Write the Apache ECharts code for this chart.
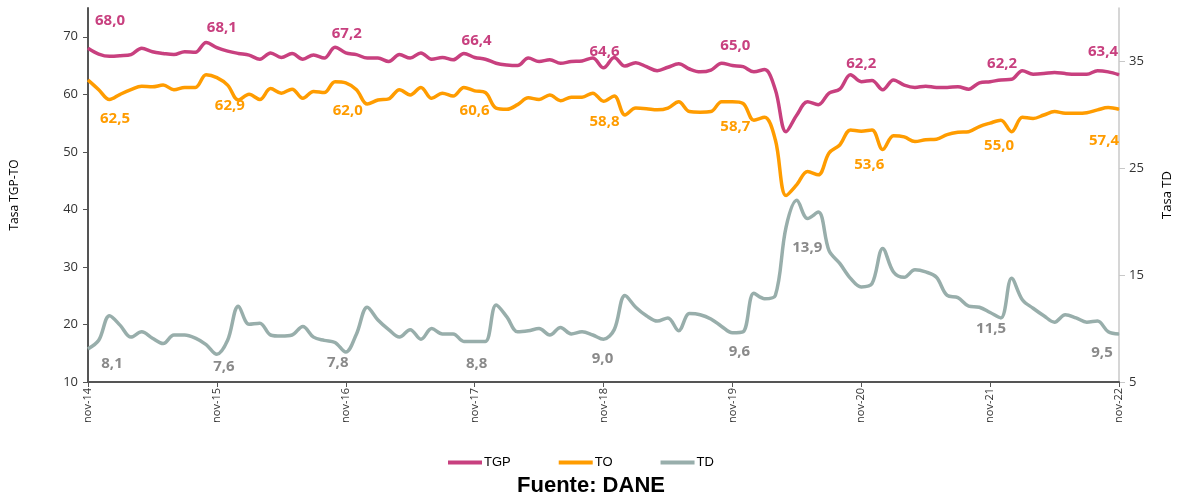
<!DOCTYPE html>
<html>
<head>
<meta charset="utf-8">
<script src="https://cdn.jsdelivr.net/npm/echarts@6/dist/echarts.min.js"></script>
<style>
html,body{margin:0;padding:0;background:#fff;overflow:hidden;}
#chart{width:1182px;height:495px;}
</style>
</head>
<body>
<div id="chart"></div>
<script>
// ---- DATA ----
const monthNames = ['nov','dic','ene','feb','mar','abr','may','jun','jul','ago','sep','oct'];
const startYear = 14;
const nMonths = 97;

const TGP = [68.0,67.0,66.6,66.7,66.9,68.0,67.4,67.1,66.9,67.4,67.3,69.0,
68.1,67.5,67.1,66.8,66.1,67.2,66.4,67.1,66.1,66.85,66.3,68.2,
67.2,66.9,66.3,66.3,65.7,66.9,66.3,67.2,66.1,66.4,66.0,67.1,
66.4,66.1,65.4,65.1,65.0,66.3,65.7,66.0,65.4,65.7,65.8,66.3,
64.6,66.4,64.9,65.5,64.8,64.1,64.7,65.3,64.4,63.9,64.2,65.4,
65.0,64.8,63.9,64.3,60.8,53.5,56.4,58.7,58.2,60.2,60.9,63.4,
62.2,62.4,60.8,62.5,61.6,61.2,61.4,61.2,61.2,61.3,60.9,62.0,
62.2,62.5,62.6,64.1,63.5,63.6,63.8,63.6,63.5,63.5,64.1,63.9,
63.4];

const TO = [62.5,60.8,59.1,60.0,60.8,61.4,61.3,61.6,60.8,61.2,61.2,63.4,
62.9,61.6,59.0,60.0,59.1,61.0,60.2,60.9,59.3,60.5,60.3,62.2,
62.0,60.8,58.3,59.0,59.2,60.8,59.9,61.2,59.3,60.2,59.7,61.2,
60.6,60.3,57.6,57.4,58.2,59.4,59.1,59.9,58.9,59.5,59.5,60.2,
58.8,59.7,56.4,57.6,57.5,57.3,57.6,58.7,57.0,56.9,57.0,58.7,
58.7,58.4,55.5,56.0,52.1,42.4,44.3,46.6,46.0,49.8,51.2,53.8,
53.6,53.8,50.4,52.8,52.6,51.8,52.1,52.2,53.0,53.4,53.5,54.4,
55.0,55.5,53.5,56.0,55.8,56.4,57.0,56.7,56.7,56.8,57.3,57.7,
57.4];

const TD = [8.1,8.9,11.2,10.3,9.2,9.7,9.1,8.6,9.4,9.4,9.1,8.5,
7.6,8.9,12.1,10.4,10.5,9.4,9.3,9.4,10.2,9.2,8.9,8.7,
7.8,9.5,12.0,10.8,9.9,9.2,9.9,9.0,10.0,9.5,9.5,8.8,
8.8,8.8,12.2,11.1,9.7,9.8,10.0,9.4,10.1,9.5,9.7,9.4,
9.0,9.9,13.1,12.0,11.2,10.7,11.0,9.8,11.4,11.3,10.9,10.2,
9.6,9.7,13.3,12.8,13.1,19.5,22.0,20.3,20.9,17.3,16.1,14.7,
13.9,14.2,17.5,15.3,14.8,15.5,15.3,14.8,13.1,12.9,12.1,12.0,
11.5,11.0,14.7,12.7,11.9,11.2,10.6,11.3,11.0,10.6,10.7,9.7,
9.5];

const labelIdx = [0,12,24,36,48,60,72,84,96];

// ---- STYLE (label placement) ----
const offTGP = [[22,-28],[5,-20],[1,-19],[2,-17],[1,-16],[3,-20],[0,-18],[12,-18],[-16,-23]];
const offTO  = [[27,39],[13,28],[2,28],[0,20],[1,21],[3,25],[8,34],[9,23],[-15,31]];
const offTD  = [[24,15],[7,13],[-8,11],[2,22],[-1,19],[7,19],[-54,-39],[1,16],[-17,19]];

const categories = [];
for (let i = 0; i < nMonths; i++) {
  const m = i % 12;
  const yr = startYear + Math.floor(i / 12) + (m >= 2 ? 1 : 0);
  categories.push(monthNames[m] + '-' + String(yr).padStart(2, '0'));
}

const fmt = v => v.toFixed(1).replace('.', ',');

function buildData(values, offsets, color) {
  return values.map((v, i) => {
    const k = labelIdx.indexOf(i);
    if (k < 0) return v;
    return {
      value: v,
      label: {
        show: true,
        position: 'inside',
        offset: offsets[k],
        formatter: p => fmt(p.value),
        color: color,
        fontSize: 15,
        fontWeight: 'bold',
        fontFamily: 'Open Sans'
      }
    };
  });
}

const cTGP = '#c8407f', cTO = '#ff9c00', cTD = '#98aeab';
const lTGP = '#c8407f', lTO = '#ff9c00', lTD = '#8a8a8a';

function lineSeries(name, values, offsets, color, labelColor, yIdx) {
  return {
    name: name,
    type: 'line',
    yAxisIndex: yIdx,
    data: buildData(values, offsets, labelColor),
    smooth: 0.35,
    showSymbol: true,
    showAllSymbol: true,
    symbol: 'circle',
    symbolSize: 1,
    itemStyle: { color: color },
    lineStyle: { color: color, width: 3.5 },
    label: { show: false },
    emphasis: { disabled: true },
    z: 3
  };
}

const chart = echarts.init(document.getElementById('chart'), null, { renderer: 'canvas' });
chart.setOption({
  animation: false,
  backgroundColor: '#fff',
  title: {
    text: 'Fuente: DANE',
    left: 'center',
    top: 470,
    textStyle: { fontSize: 22, fontWeight: 'bold', color: '#000', fontFamily: 'Liberation Sans' }
  },
  legend: {
    left: 443,
    top: 451,
    itemWidth: 34,
    itemHeight: 4,
    itemGap: 48,
    icon: 'rect',
    textStyle: { fontSize: 13, color: '#000', fontFamily: 'Liberation Sans', padding: [0, 0, 0, -3] },
    data: [
      { name: 'TGP', itemStyle: { color: cTGP } },
      { name: 'TO', itemStyle: { color: cTO } },
      { name: 'TD', itemStyle: { color: cTD } }
    ]
  },
  grid: { left: 88, right: 50, top: 8, bottom: 113, containLabel: false },
  xAxis: {
    type: 'category',
    data: categories,
    boundaryGap: false,
    axisLine: { lineStyle: { color: '#555', width: 2 } },
    axisTick: { show: true, interval: 11, length: 5, lineStyle: { color: '#555' } },
    axisLabel: {
      interval: 11,
      rotate: 90,
      fontSize: 11,
      color: '#333',
      fontFamily: 'Open Sans',
      margin: 6
    },
    splitLine: { show: false }
  },
  yAxis: [
    {
      type: 'value',
      min: 10, max: 75, interval: 10,
      name: 'Tasa TGP-TO',
      nameLocation: 'middle',
      nameGap: 67,
      nameRotate: 90,
      nameTextStyle: { fontSize: 12, color: '#000', fontFamily: 'Open Sans' },
      axisLine: { show: true, lineStyle: { color: '#555', width: 2 } },
      axisTick: { show: true, length: 5, lineStyle: { color: '#555' } },
      axisLabel: { fontSize: 13, color: '#333', fontFamily: 'Open Sans', showMaxLabel: false, margin: 10 },
      splitLine: { show: false }
    },
    {
      type: 'value',
      min: 5, max: 40, interval: 10,
      position: 'right',
      name: 'Tasa TD',
      nameLocation: 'middle',
      nameGap: 42,
      nameRotate: 90,
      nameTextStyle: { fontSize: 13, color: '#000', fontFamily: 'Open Sans' },
      axisLine: { show: true, lineStyle: { color: '#c8c8c8', width: 1.5 } },
      axisTick: { show: true, length: 6, lineStyle: { color: '#c8c8c8' } },
      axisLabel: { fontSize: 13, color: '#333', fontFamily: 'Open Sans', showMaxLabel: false, margin: 10 },
      splitLine: { show: false }
    }
  ],
  series: [
    lineSeries('TGP', TGP, offTGP, cTGP, lTGP, 0),
    lineSeries('TO', TO, offTO, cTO, lTO, 0),
    lineSeries('TD', TD, offTD, cTD, lTD, 1)
  ]
});
</script>
</body>
</html>
